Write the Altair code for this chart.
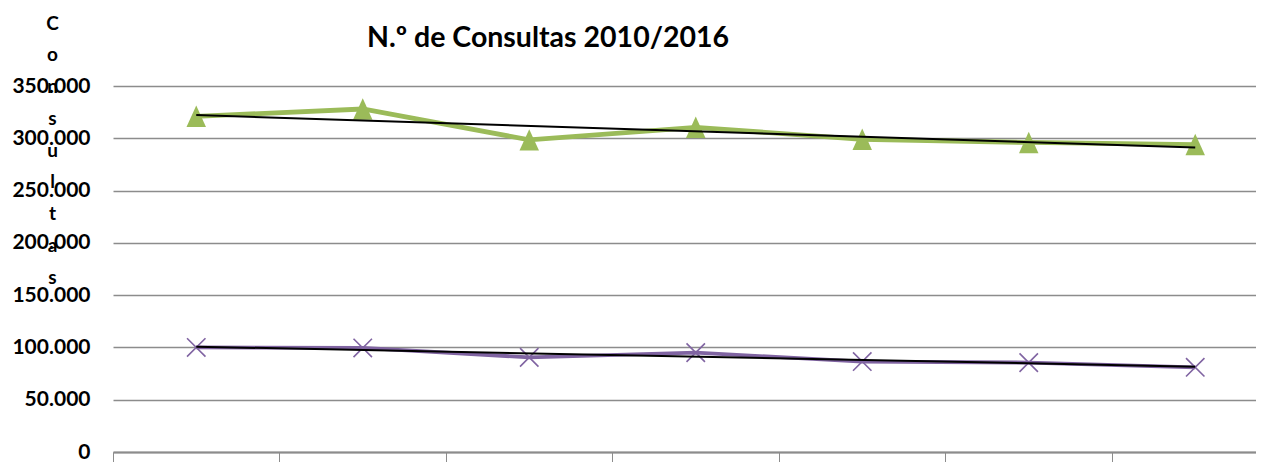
import altair as alt
import pandas as pd

# ---- data ----
anos = ["2010", "2011", "2012", "2013", "2014", "2015", "2016"]
serie_verde = [321000, 328000, 298500, 310500, 299000, 296000, 294000]
serie_roxa = [100000, 99500, 90500, 95000, 86500, 85500, 81000]
ticks_y = [0, 50000, 100000, 150000, 200000, 250000, 300000, 350000]
ticks_x = [0.5, 1.5, 2.5, 3.5, 4.5, 5.5, 6.5]
titulo = "N.º de Consultas 2010/2016"
titulo_eixo = "Consultas"

VERDE = "#9BBB59"
ROXO = "#8064A2"
GRID = "#8c8c8c"

idx = list(range(1, len(anos) + 1))
df = pd.DataFrame({
    "ano": anos * 2,
    "idx": idx * 2,
    "valor": serie_verde + serie_roxa,
    "serie": ["verde"] * len(anos) + ["roxa"] * len(anos),
})

x = alt.X(
    "idx:Q",
    scale=alt.Scale(domain=[0.5, 7.365], nice=False, zero=False),
    axis=alt.Axis(
        values=ticks_x, labels=False, title=None, grid=False,
        domainColor=GRID, domainWidth=2, tickColor=GRID, tickWidth=1, tickSize=10,
    ),
)
y = alt.Y(
    "valor:Q",
    scale=alt.Scale(domain=[0, 350000], nice=False),
    axis=alt.Axis(
        values=ticks_y,
        labelExpr="replace(format(datum.value, ','), ',', '.')",
        labelFont="Lato", labelFontWeight="bold", labelFontSize=21, labelColor="black",
        labelPadding=23, tickSize=0, domain=False,
        grid=True, gridColor=GRID, gridWidth=1.3,
        title=list(titulo_eixo), titleAngle=0, titleX=-61, titleY=-63,
        titleAlign="center", titleBaseline="middle", titleLineHeight=31.75,
        titleFont="Lato", titleFontSize=19, titleFontWeight="bold", titleColor="black",
    ),
)

base = alt.Chart(df).encode(x=x, y=y)

verde = base.transform_filter(alt.datum.serie == "verde")
roxa = base.transform_filter(alt.datum.serie == "roxa")

linha_verde = verde.mark_line(color=VERDE, strokeWidth=4.8)
pontos_verde = verde.mark_point(
    shape="M0,-1.1L-1,1.1L1,1.1Z", filled=True, size=380, color=VERDE, opacity=1
)
linha_roxa = roxa.mark_line(color=ROXO, strokeWidth=3.8)
pontos_roxa = roxa.mark_point(
    shape="M-1,-1L1,1M-1,1L1,-1", filled=False, size=340, color=ROXO,
    strokeWidth=1.6, opacity=1
)
tendencia = base.transform_regression(
    "idx", "valor", groupby=["serie"]
).mark_line(color="black", strokeWidth=2).encode(detail="serie:N")

texto_titulo = alt.Chart(pd.DataFrame({"t": [titulo]})).mark_text(
    font="Lato", fontWeight="bold", fontSize=28.5, color="black",
    align="center", baseline="alphabetic",
).encode(text="t:N", x=alt.value(435), y=alt.value(-39))

chart = alt.layer(
    linha_verde, pontos_verde, linha_roxa, pontos_roxa, tendencia, texto_titulo
).properties(
    width=1143, height=366,
    autosize=alt.AutoSizeParams(type="none"),
    padding={"left": 105, "top": 78, "right": 0, "bottom": 10},
).configure_view(stroke=None)

chart.save("out.html", embed_options={"renderer": "svg", "actions": False})
